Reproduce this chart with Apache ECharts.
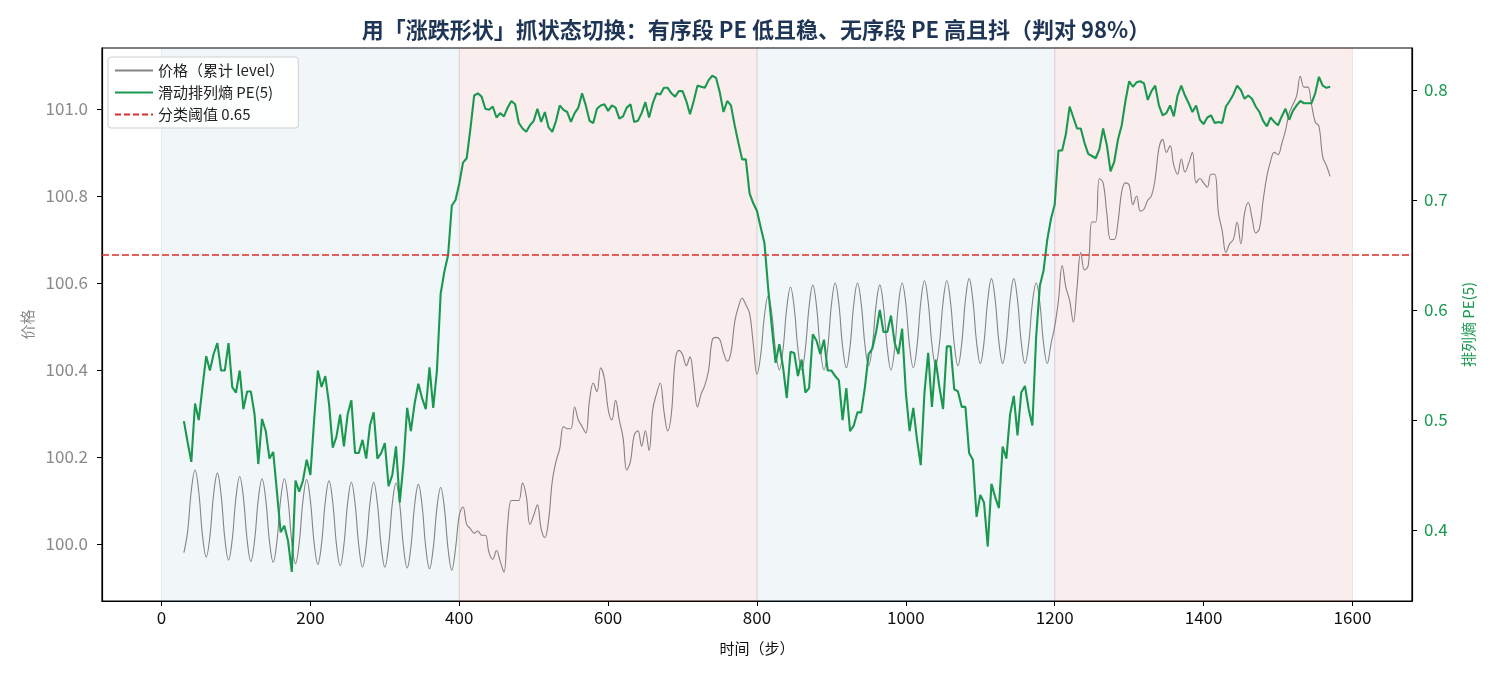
<!DOCTYPE html>
<html>
<head>
<meta charset="utf-8">
<script src="https://cdn.jsdelivr.net/npm/echarts@6/dist/echarts.min.js"></script>
<style>
html, body { margin: 0; padding: 0; background: #fff; }
#chartBox { width: 1495px; height: 676px; }
</style>
</head>
<body>
<div id="chartBox"></div>
<script>
// sampling grid of the two series (time steps)
var stepStart = 30;
var stepSize = 5;

// price (cumulative level), every 5 steps from t=30
var priceValues = [
  99.980,100.028,100.123,100.170,100.120,100.020,99.970,100.018,100.115,100.163,
  100.113,100.013,99.963,100.011,100.107,100.155,100.106,100.009,99.960,100.008,
  100.103,100.150,100.102,100.006,99.958,100.006,100.102,100.150,100.101,100.004,
  99.955,100.003,100.100,100.148,100.099,100.002,99.953,100.001,100.097,100.145,
  100.096,99.999,99.950,99.998,100.094,100.142,100.093,99.996,99.947,99.996,
  100.093,100.142,100.093,99.996,99.947,99.995,100.092,100.140,100.091,99.994,
  99.945,99.993,100.089,100.137,100.089,99.992,99.943,99.990,100.083,100.130,
  100.083,99.988,99.940,99.990,100.066,100.085,100.045,100.035,100.025,100.030,
  100.020,100.020,99.980,99.965,99.985,99.960,99.935,100.045,100.100,100.100,
  100.100,100.140,100.110,100.045,100.066,100.090,100.035,100.015,100.055,100.145,
  100.190,100.220,100.270,100.265,100.265,100.315,100.285,100.270,100.255,100.330,
  100.370,100.350,100.405,100.380,100.310,100.285,100.330,100.285,100.245,100.170,
  100.190,100.250,100.260,100.225,100.260,100.215,100.310,100.345,100.370,100.305,
  100.260,100.300,100.420,100.445,100.435,100.410,100.430,100.375,100.315,100.345,
  100.365,100.400,100.470,100.475,100.470,100.440,100.420,100.440,100.510,100.545,
  100.565,100.550,100.530,100.460,100.390,100.435,100.525,100.570,100.528,100.443,
  100.400,100.448,100.543,100.590,100.543,100.448,100.400,100.449,100.546,100.595,
  100.546,100.449,100.400,100.450,100.550,100.600,100.551,100.454,100.405,100.454,
  100.551,100.600,100.553,100.458,100.410,100.456,100.549,100.595,100.546,100.449,
  100.400,100.450,100.550,100.600,100.551,100.454,100.405,100.455,100.555,100.605,
  100.556,100.459,100.410,100.459,100.556,100.605,100.556,100.459,100.410,100.460,
  100.560,100.610,100.561,100.464,100.415,100.464,100.561,100.610,100.561,100.464,
  100.415,100.464,100.561,100.610,100.561,100.464,100.415,100.461,100.554,100.600,
  100.554,100.461,100.415,100.460,100.500,100.560,100.640,100.590,100.560,100.510,
  100.590,100.670,100.630,100.640,100.740,100.740,100.840,100.830,100.760,100.700,
  100.700,100.740,100.810,100.830,100.825,100.780,100.800,100.765,100.770,100.790,
  100.800,100.840,100.910,100.930,100.900,100.915,100.870,100.850,100.885,100.855,
  100.875,100.900,100.830,100.840,100.830,100.820,100.850,100.850,100.760,100.720,
  100.670,100.690,100.700,100.740,100.690,100.760,100.785,100.750,100.715,100.725,
  100.790,100.845,100.880,100.900,100.895,100.920,100.950,100.990,101.010,101.030,
  101.075,101.050,101.050,101.010,100.970,100.960,100.890,100.870,100.845
];

// rolling permutation entropy PE(5), same grid
var peValues = [
  0.499,0.480,0.462,0.515,0.500,0.530,0.558,0.545,0.560,0.570,
  0.545,0.545,0.570,0.530,0.525,0.545,0.510,0.526,0.526,0.505,
  0.460,0.501,0.490,0.465,0.471,0.435,0.398,0.404,0.390,0.362,
  0.445,0.435,0.445,0.464,0.450,0.500,0.545,0.530,0.540,0.515,
  0.475,0.485,0.505,0.476,0.505,0.518,0.470,0.470,0.482,0.465,
  0.495,0.507,0.465,0.470,0.479,0.440,0.450,0.476,0.425,0.460,
  0.511,0.490,0.515,0.533,0.520,0.510,0.548,0.511,0.545,0.615,
  0.635,0.650,0.695,0.700,0.715,0.734,0.738,0.765,0.795,0.797,
  0.794,0.783,0.782,0.785,0.775,0.779,0.776,0.784,0.790,0.787,
  0.770,0.765,0.762,0.768,0.772,0.783,0.771,0.780,0.766,0.762,
  0.772,0.786,0.782,0.780,0.771,0.779,0.784,0.797,0.786,0.772,
  0.770,0.783,0.786,0.787,0.781,0.786,0.784,0.774,0.776,0.784,
  0.787,0.771,0.772,0.779,0.789,0.775,0.788,0.797,0.796,0.802,
  0.802,0.797,0.794,0.799,0.799,0.790,0.778,0.790,0.804,0.803,
  0.802,0.809,0.813,0.811,0.798,0.780,0.790,0.786,0.768,0.752,
  0.737,0.737,0.706,0.697,0.690,0.675,0.661,0.620,0.584,0.552,
  0.569,0.548,0.520,0.562,0.561,0.540,0.555,0.525,0.529,0.578,
  0.572,0.560,0.573,0.545,0.545,0.540,0.536,0.500,0.529,0.490,
  0.495,0.507,0.507,0.530,0.560,0.565,0.580,0.600,0.580,0.580,
  0.595,0.570,0.560,0.583,0.525,0.490,0.511,0.482,0.459,0.525,
  0.561,0.512,0.555,0.530,0.510,0.567,0.567,0.528,0.526,0.512,
  0.512,0.470,0.464,0.412,0.432,0.425,0.385,0.442,0.430,0.420,
  0.476,0.465,0.505,0.522,0.486,0.525,0.531,0.510,0.495,0.575,
  0.622,0.636,0.664,0.683,0.696,0.745,0.745,0.760,0.785,0.775,
  0.765,0.765,0.752,0.742,0.740,0.738,0.746,0.765,0.750,0.726,
  0.735,0.755,0.768,0.790,0.808,0.803,0.807,0.808,0.806,0.791,
  0.799,0.804,0.786,0.777,0.779,0.786,0.776,0.795,0.804,0.795,
  0.788,0.780,0.786,0.773,0.769,0.775,0.777,0.770,0.771,0.770,
  0.785,0.790,0.796,0.804,0.800,0.792,0.795,0.792,0.785,0.780,
  0.772,0.767,0.775,0.771,0.768,0.776,0.783,0.773,0.781,0.786,
  0.790,0.788,0.788,0.788,0.797,0.812,0.804,0.802,0.803
];

// true regimes: ordered (blue) / disordered (red)
var regimes = [
  { from: 0, to: 400, kind: "ordered" },
  { from: 400, to: 800, kind: "disordered" },
  { from: 800, to: 1200, kind: "ordered" },
  { from: 1200, to: 1600, kind: "disordered" }
];
var peThreshold = 0.65;

var xTicks = [0, 200, 400, 600, 800, 1000, 1200, 1400, 1600];
var priceTicks = [100.0, 100.2, 100.4, 100.6, 100.8, 101.0];
var peTicks = [0.4, 0.5, 0.6, 0.7, 0.8];

var seriesNames = ["价格（累计 level）", "滑动排列熵 PE(5)", "分类阈值 0.65"];

var FONT = "'Noto Sans CJK SC', 'Noto Sans', sans-serif";
var priceColor = "rgba(115,110,110,0.85)";
var peColor = "#1a9850";
var thrColor = "#d8302a";

function toPairs(vals) {
  return vals.map(function (v, i) { return [stepStart + i * stepSize, v]; });
}

var chart = echarts.init(document.getElementById("chartBox"));

var option = {
  animation: false,
  backgroundColor: "#fff",
  textStyle: { fontFamily: FONT },
  title: {
    text: "用「涨跌形状」抓状态切换：有序段 PE 低且稳、无序段 PE 高且抖（判对 98%）",
    left: 751,
    textAlign: "center",
    top: 14,
    textStyle: { color: "#1f3556", fontSize: 22, fontWeight: "bold", fontFamily: FONT }
  },
  legend: {
    data: seriesNames,
    orient: "vertical",
    left: 108,
    top: 57,
    padding: [6, 14, 6, 6],
    itemGap: 7,
    itemWidth: 38,
    itemHeight: 14,
    itemStyle: { opacity: 0 },
    backgroundColor: "rgba(255,255,255,0.85)",
    borderColor: "#d0d0d0",
    borderWidth: 1,
    borderRadius: 3,
    textStyle: { color: "#222", fontSize: 15, fontFamily: FONT }
  },
  grid: {
    left: 102, right: 83, top: 48, bottom: 75,
    show: true, borderColor: "#000", borderWidth: 1.2, backgroundColor: "transparent"
  },
  xAxis: {
    type: "value",
    min: -80,
    max: 1680,
    name: "时间（步）",
    nameLocation: "middle",
    nameGap: 40,
    nameTextStyle: { color: "#111", fontSize: 15 },
    axisLine: { show: true, onZero: false, lineStyle: { color: "#000", width: 1.2 } },
    axisTick: { show: true, customValues: xTicks, length: 5, lineStyle: { color: "#000" } },
    axisLabel: {
      customValues: xTicks, color: "#111", fontSize: 17, margin: 8,
      formatter: function (v) { return String(v); }
    },
    splitLine: { show: false }
  },
  yAxis: [
    {
      type: "value",
      position: "left",
      min: 99.869,
      max: 101.14,
      name: "价格",
      nameLocation: "middle",
      nameGap: 64,
      nameTextStyle: { color: "#8a8a8a", fontSize: 15 },
      axisLine: { show: true, onZero: false, lineStyle: { color: "#000", width: 1.2 } },
      axisTick: { show: true, customValues: priceTicks, length: 5, lineStyle: { color: "#000" } },
      axisLabel: {
        customValues: priceTicks, color: "#8a8a8a", fontSize: 17, margin: 14,
        formatter: function (v) { return v.toFixed(1); }
      },
      splitLine: { show: false }
    },
    {
      type: "value",
      position: "right",
      min: 0.3355,
      max: 0.8382,
      name: "排列熵 PE(5)",
      nameLocation: "middle",
      nameRotate: 90,
      nameGap: 49,
      nameTextStyle: { color: peColor, fontSize: 15 },
      axisLine: { show: true, onZero: false, lineStyle: { color: "#000", width: 1.2 } },
      axisTick: { show: true, customValues: peTicks, length: 5, lineStyle: { color: "#000" } },
      axisLabel: {
        customValues: peTicks, color: peColor, fontSize: 17, margin: 12,
        formatter: function (v) { return v.toFixed(1); }
      },
      splitLine: { show: false }
    }
  ],
  series: [
    {
      name: seriesNames[0],
      type: "line",
      yAxisIndex: 0,
      data: toPairs(priceValues),
      symbol: "none",
      smooth: 0.4,
      lineStyle: { color: priceColor, width: 1.1 },
      itemStyle: { color: priceColor },
      z: 2,
      markArea: {
        silent: true,
        data: regimes.map(function (r) {
          var ordered = r.kind === "ordered";
          return [
            {
              xAxis: r.from,
              itemStyle: {
                color: ordered ? "rgba(70,130,180,0.075)" : "rgba(200,90,75,0.1)",
                borderColor: ordered ? "rgba(70,130,180,0.12)" : "rgba(200,90,75,0.15)",
                borderWidth: 1
              }
            },
            { xAxis: r.to }
          ];
        })
      }
    },
    {
      name: seriesNames[1],
      type: "line",
      yAxisIndex: 1,
      data: toPairs(peValues),
      symbol: "none",
      lineStyle: { color: peColor, width: 2.1 },
      itemStyle: { color: peColor },
      z: 3
    },
    {
      name: seriesNames[2],
      type: "line",
      yAxisIndex: 1,
      data: [],
      symbol: "none",
      lineStyle: { color: thrColor, width: 1.5, type: [6, 3] },
      itemStyle: { color: thrColor },
      z: 4,
      markLine: {
        silent: true,
        symbol: ["none", "none"],
        label: { show: false },
        lineStyle: { color: thrColor, width: 1.5, type: [7, 3], opacity: 1 },
        data: [{ yAxis: peThreshold }]
      }
    }
  ]
};

chart.setOption(option);
</script>
</body>
</html>
